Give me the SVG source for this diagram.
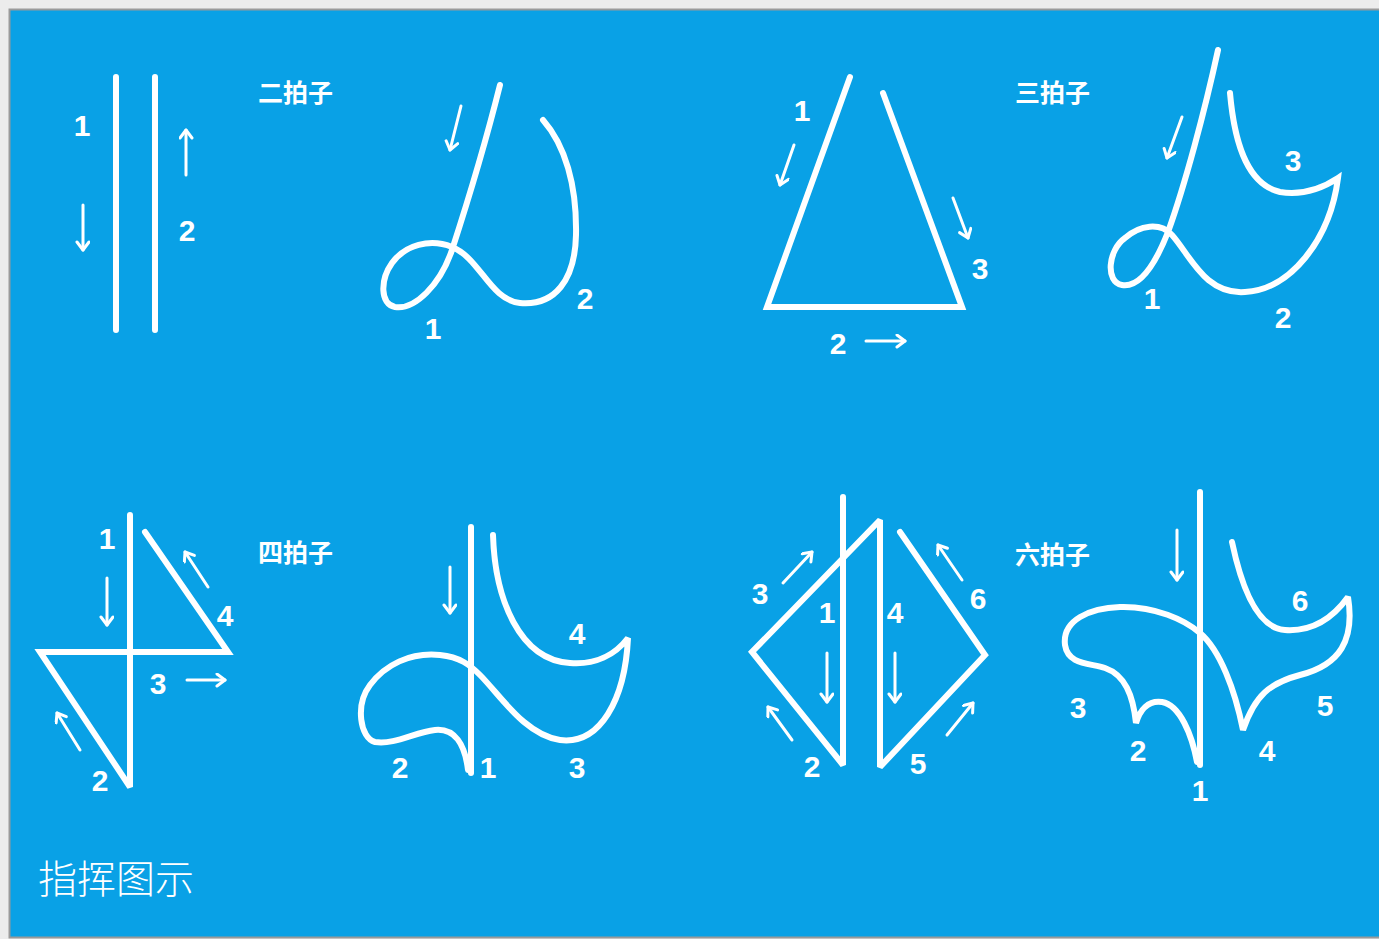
<svg xmlns="http://www.w3.org/2000/svg" width="1379" height="939" viewBox="0 0 1379 939">
<defs>
<marker id="ah" markerUnits="userSpaceOnUse" markerWidth="16" markerHeight="16" refX="10" refY="7" orient="auto">
<path d="M2,1 L10,7 L2,13" fill="none" stroke="#fff" stroke-width="3" stroke-linecap="round" stroke-linejoin="round"/>
</marker>
</defs>
<style>
.s{fill:none;stroke:#fff;stroke-width:6;stroke-linecap:round;stroke-linejoin:miter;stroke-miterlimit:2.5}
.a{fill:none;stroke:#fff;stroke-width:3;stroke-linecap:round;marker-end:url(#ah)}
.n{fill:#fff;font-family:"Liberation Sans",Arial,sans-serif;font-size:30px;font-weight:bold;text-anchor:middle}
.t{fill:#fff;font-family:"Noto Sans CJK SC","Noto Sans",sans-serif;font-size:25px;font-weight:bold}
.h{fill:#fff;font-family:"Noto Sans CJK SC","Noto Sans",sans-serif;font-size:39px;font-weight:300}
</style>
<rect width="1379" height="939" fill="#ececec"/>
<rect x="9.5" y="9.5" width="1372" height="928" fill="#09a1e6" stroke="#9a9a9a" stroke-width="2"/>

<g id="two-straight">
<path class="s" d="M116,77 L116,330 M155,77 L155,330"/>
<path class="a" d="M83,205 L83,250"/>
<path class="a" d="M186,175 L186,130"/>
<text class="n" x="82" y="136">1</text>
<text class="n" x="187" y="241">2</text>
</g>
<text class="t" x="258" y="102">二拍子</text>

<g id="two-curve">
<path class="s" d="M500,85 C485,145 465,210 452,250 C440,285 415,310 395,307 C380,304 380,280 392,263 C405,245 430,238 452,247 C480,258 490,300 520,303 C555,306 575,280 576,235 C577,185 565,145 543,120"/>
<path class="a" d="M461,106 L450,150"/>
<text class="n" x="433" y="339">1</text>
<text class="n" x="585" y="309">2</text>
</g>

<g id="three-straight">
<path class="s" d="M850,77 L767,307 L962,307 L883,93"/>
<path class="a" d="M794,145 L780,185"/>
<path class="a" d="M953,198 L968,238"/>
<path class="a" d="M866,341 L905,341"/>
<text class="n" x="802" y="121">1</text>
<text class="n" x="980" y="279">3</text>
<text class="n" x="838" y="354">2</text>
</g>
<text class="t" x="1015" y="102">三拍子</text>

<g id="three-curve">
<path class="s" d="M1218,50 C1205,110 1185,185 1168,232 C1155,265 1140,288 1122,285 C1105,282 1108,250 1125,238 C1140,225 1160,222 1172,235 C1190,255 1205,295 1245,292 C1290,290 1330,240 1338,178 C1320,190 1300,195 1280,192 C1250,185 1235,150 1230,93"/>
<path class="a" d="M1182,117 L1167,158"/>
<text class="n" x="1293" y="171">3</text>
<text class="n" x="1283" y="328">2</text>
<text class="n" x="1152" y="309">1</text>
</g>

<g id="four-straight">
<path class="s" d="M130,515 L130,787 L40,652 L228,652 L145,532"/>
<path class="a" d="M107,578 L107,625"/>
<path class="a" d="M208,587 L185,552"/>
<path class="a" d="M187,680 L225,680"/>
<path class="a" d="M80,750 L57,713"/>
<text class="n" x="107" y="549">1</text>
<text class="n" x="225" y="626">4</text>
<text class="n" x="158" y="694">3</text>
<text class="n" x="100" y="791">2</text>
</g>
<text class="t" x="258" y="562">四拍子</text>

<g id="four-curve">
<path class="s" d="M471,527 L471,773"/>
<path class="s" d="M468,770 C465,745 455,728 435,730 C415,732 395,745 375,742 C360,738 355,705 370,685 C385,665 410,652 440,655 C460,657 470,665 480,675 C500,695 525,735 560,740 C600,745 625,700 628,638 C615,655 595,665 570,663 C520,660 495,600 493,535"/>
<path class="a" d="M450,567 L450,613"/>
<text class="n" x="577" y="644">4</text>
<text class="n" x="400" y="778">2</text>
<text class="n" x="488" y="778">1</text>
<text class="n" x="577" y="778">3</text>
</g>

<g id="six-straight">
<path class="s" d="M843,497 L843,765 L752,652 L880,520 L880,767 L985,655 L900,532"/>
<path class="a" d="M783,583 L812,552"/>
<path class="a" d="M827,653 L827,702"/>
<path class="a" d="M895,653 L895,702"/>
<path class="a" d="M962,580 L938,545"/>
<path class="a" d="M792,740 L768,707"/>
<path class="a" d="M947,735 L973,703"/>
<text class="n" x="760" y="604">3</text>
<text class="n" x="827" y="623">1</text>
<text class="n" x="895" y="623">4</text>
<text class="n" x="978" y="609">6</text>
<text class="n" x="812" y="777">2</text>
<text class="n" x="918" y="774">5</text>
</g>
<text class="t" x="1015" y="564">六拍子</text>

<g id="six-curve">
<path class="s" d="M1200,492 L1200,765"/>
<path class="s" d="M1197,762 C1192,735 1180,705 1162,702 C1148,700 1140,710 1136,723 C1133,695 1125,675 1105,668 C1090,663 1068,665 1065,645 C1062,620 1090,608 1120,607 C1155,606 1185,620 1200,633 C1220,650 1235,690 1243,730 C1255,695 1270,683 1300,675 C1340,665 1355,640 1348,597 C1335,615 1315,632 1285,630 C1255,628 1240,580 1232,542"/>
<path class="a" d="M1177,530 L1177,580"/>
<text class="n" x="1300" y="611">6</text>
<text class="n" x="1325" y="716">5</text>
<text class="n" x="1267" y="761">4</text>
<text class="n" x="1200" y="801">1</text>
<text class="n" x="1138" y="761">2</text>
<text class="n" x="1078" y="718">3</text>
</g>

<text class="h" x="38" y="893">指挥图示</text>
</svg>
